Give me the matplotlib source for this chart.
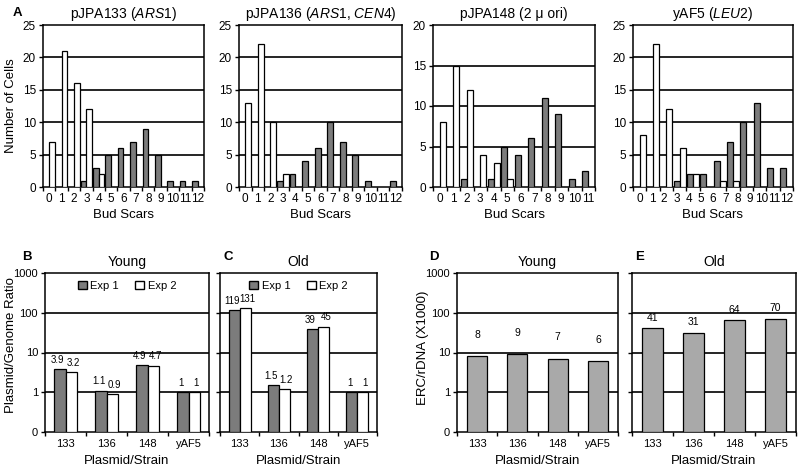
import matplotlib
matplotlib.use("Agg")
import matplotlib.pyplot as plt
import numpy as np
from matplotlib.patches import Patch

plt.rcParams['font.family'] = ['Liberation Sans', 'DejaVu Sans']
plt.rcParams['mathtext.fontset'] = 'custom'
plt.rcParams['mathtext.rm'] = 'Liberation Sans'
plt.rcParams['mathtext.it'] = 'Liberation Sans:italic'

# ---------------- data ----------------
top_titles = ["pJPA133 ($\\mathit{ARS1}$)", "pJPA136 ($\\mathit{ARS1}$, $\\mathit{CEN4}$)",
              "pJPA148 (2 \u03bc ori)", "yAF5 ($\\mathit{LEU2}$)"]
top_labels = [[str(i) for i in range(13)], [str(i) for i in range(13)],
              [str(i) for i in range(12)], [str(i) for i in range(13)]]
gray_133 = [0, 0, 0, 1, 3, 5, 6, 7, 9, 5, 1, 1, 1]
white_133 = [7, 21, 16, 12, 2, 0, 0, 0, 0, 0, 0, 0, 0]
gray_136 = [0, 0, 0, 1, 2, 4, 6, 10, 7, 5, 1, 0, 1]
white_136 = [13, 22, 10, 2, 0, 0, 0, 0, 0, 0, 0, 0, 0]
gray_148 = [0, 0, 1, 0, 1, 5, 4, 6, 11, 9, 1, 2]
white_148 = [8, 15, 12, 4, 3, 1, 0, 0, 0, 0, 0, 0]
gray_yaf5 = [0, 0, 0, 1, 2, 2, 4, 7, 10, 13, 3, 3]
white_yaf5 = [8, 22, 12, 6, 2, 0, 1, 1, 0, 0, 0, 0]
top_ymax = [25, 25, 20, 25]

strains = ["133", "136", "148", "yAF5"]
young_exp1 = [3.9, 1.1, 4.9, 1]
young_exp2 = [3.2, 0.9, 4.7, 1]
old_exp1 = [119, 1.5, 39, 1]
old_exp2 = [131, 1.2, 45, 1]
erc_young = [8, 9, 7, 6]
erc_old = [41, 31, 64, 70]

GRAY = '#7c7c7c'
LGRAY = '#a9a9a9'

fig = plt.figure(figsize=(8, 4.72), dpi=100)
W, H = 800, 472


def rect(l, t, r, b):
    return [l / W, 1 - b / H, (r - l) / W, (b - t) / H]


def style_spines(ax):
    for s in ax.spines.values():
        s.set_linewidth(1.1)
        s.set_color('black')


# ---------------- top row ----------------
top_rects = [(43, 25, 204, 187), (239, 25, 402, 187), (433, 25, 595, 187), (633, 25, 793, 187)]
top_gray = [gray_133, gray_136, gray_148, gray_yaf5]
top_white = [white_133, white_136, white_148, white_yaf5]
for i in range(4):
    ax = fig.add_axes(rect(*top_rects[i]))
    g = np.array(top_gray[i]); wv = np.array(top_white[i])
    n = len(g)
    x = np.arange(n)
    bw = 0.46
    mg = g > 0; mw = wv > 0
    ax.bar(x[mg] - bw / 2, g[mg], bw, color=GRAY, edgecolor='black', lw=0.9, zorder=3)
    ax.bar(x[mw] + bw / 2, wv[mw], bw, color='white', edgecolor='black', lw=0.9, zorder=3)
    ax.set_xlim(-0.5, n - 0.5)
    ymax = top_ymax[i]
    ax.set_ylim(0, ymax)
    yt = list(range(0, ymax + 1, 5))
    ax.set_yticks(yt)
    for yv in yt[1:-1]:
        ax.axhline(yv, color='black', lw=1.2, zorder=1)
    labs = top_labels[i]
    ax.set_xticks(np.linspace(0, n - 1, len(labs)))
    ax.set_xticklabels(labs)
    ax.set_xticks(np.arange(-0.5, n, 1), minor=True)
    ax.tick_params(axis='x', which='major', length=0, pad=4, labelsize=8.5)
    ax.tick_params(axis='x', which='minor', length=3, direction='out', width=1)
    ax.tick_params(axis='y', length=3, direction='out', width=1, labelsize=8.5, pad=2)
    style_spines(ax)
    ax.set_title(top_titles[i], fontsize=10, pad=5)
    ax.set_xlabel("Bud Scars", fontsize=9.5, labelpad=3)

fig.text(11 / W, 1 - 106 / H, "Number of Cells", fontsize=9.5, rotation=90,
         ha='center', va='center')
fig.text(17 / W, 1 - 13 / H, "A", fontsize=9.5, fontweight='bold', ha='center', va='center')


# ---------------- bottom row ----------------
def log_axes(ax, show_labels):
    ax.set_yscale('log')
    ax.set_ylim(0.1, 1000)
    ax.set_yticks([0.1, 1, 10, 100, 1000])
    ax.minorticks_off()
    if show_labels:
        ax.set_yticklabels(['0', '1', '10', '100', '1000'])
    else:
        ax.set_yticklabels([])
    for yv in [1, 10, 100]:
        ax.axhline(yv, color='black', lw=1.2, zorder=1)
    ax.set_xlim(-0.5, 3.5)
    ax.set_xticks(np.arange(4))
    ax.set_xticklabels(strains)
    ax.set_xticks(np.arange(-0.5, 4, 1), minor=True)
    ax.tick_params(axis='x', which='major', length=0, pad=5, labelsize=8)
    ax.tick_params(axis='x', which='minor', length=3, direction='out', width=1)
    ax.tick_params(axis='y', length=3, direction='out', width=1, labelsize=8, pad=2)
    style_spines(ax)
    ax.set_xlabel("Plasmid/Strain", fontsize=9.5, labelpad=4)


bc_rects = [(45, 273, 209, 432), (220, 273, 377, 432)]
bc_data = [(young_exp1, young_exp2, "Young", "B"), (old_exp1, old_exp2, "Old", "C")]
for i in range(2):
    ax = fig.add_axes(rect(*bc_rects[i]))
    e1, e2, ttl, letter = bc_data[i]
    x = np.arange(4)
    bw = 0.28
    e1 = np.array(e1, float); e2 = np.array(e2, float)
    ax.bar(x - bw / 2, e1 - 0.1, bw, bottom=0.1, color=GRAY, edgecolor='black', lw=0.9, zorder=3)
    ax.bar(x + bw / 2, e2 - 0.1, bw, bottom=0.1, color='white', edgecolor='black', lw=0.9, zorder=3)
    for xi, v in zip(x - bw / 2, e1):
        ax.annotate(f"{v:g}", (xi, v), xytext=(-1.5, 3), textcoords='offset points',
                    ha='center', va='bottom', fontsize=7)
    for xi, v in zip(x + bw / 2, e2):
        ax.annotate(f"{v:g}", (xi, v), xytext=(1.5, 3), textcoords='offset points',
                    ha='center', va='bottom', fontsize=7)
    log_axes(ax, i == 0)
    ax.set_title(ttl, fontsize=10, pad=5)
    handles = [Patch(facecolor=GRAY, edgecolor='black', label='Exp 1'),
               Patch(facecolor='white', edgecolor='black', label='Exp 2')]
    ax.legend(handles=handles, loc='upper center', ncol=2, frameon=False, fontsize=8,
              handlelength=0.8, handleheight=0.8, handletextpad=0.3, columnspacing=1.5,
              borderaxespad=0.3)
    l = bc_rects[i][0]
    fig.text((l - 23 if i == 0 else l + 3) / W, 1 - 257 / H, letter, fontsize=9.5,
             fontweight='bold', ha='left', va='center')

fig.text(11 / W, 1 - 345 / H, "Plasmid/Genome Ratio", fontsize=9.5, rotation=90,
         ha='center', va='center')

de_rects = [(457, 273, 618, 432), (632, 273, 796, 432)]
de_data = [(erc_young, "Young", "D", 12), (erc_old, "Old", "E", 4)]
for i in range(2):
    ax = fig.add_axes(rect(*de_rects[i]))
    vals, ttl, letter, off = de_data[i]
    vals = np.array(vals, float)
    x = np.arange(4)
    ax.bar(x, vals - 0.1, 0.5, bottom=0.1, color=LGRAY, edgecolor='black', lw=0.9, zorder=3)
    for xi, v in zip(x, vals):
        ax.annotate(f"{v:g}", (xi, v), xytext=(0, off), textcoords='offset points',
                    ha='center', va='bottom', fontsize=7.5)
    log_axes(ax, i == 0)
    ax.set_title(ttl, fontsize=10, pad=5)
    l = de_rects[i][0]
    fig.text((l - 28 if i == 0 else l + 3) / W, 1 - 257 / H, letter, fontsize=9.5,
             fontweight='bold', ha='left', va='center')

fig.text(423 / W, 1 - 348 / H, "ERC/rDNA (X1000)", fontsize=9.5, rotation=90,
         ha='center', va='center')

fig.savefig("out.png", dpi=100)
